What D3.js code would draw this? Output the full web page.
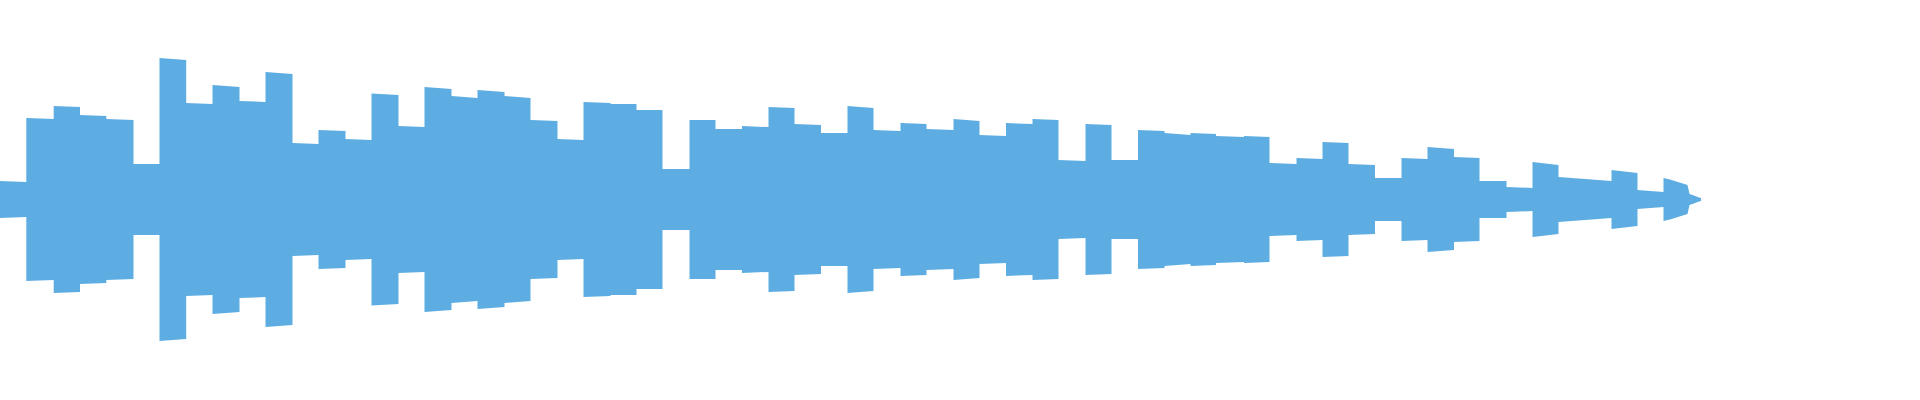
<!DOCTYPE html>
<html>
<head>
<meta charset="utf-8">
<script src="https://cdn.jsdelivr.net/npm/d3@7"></script>
<style>
  html, body { margin: 0; padding: 0; background: #fff; }
  svg { display: block; }
</style>
</head>
<body>
<svg id="chart"></svg>
<script>
// note onsets (seconds) - last one is the fading tail
const noteStart = [0, 0.263, 0.537, 0.80, 1.063, 1.335, 1.595, 1.862, 2.125, 2.395,
  2.655, 2.925, 3.185, 3.455, 3.715, 3.985, 4.245, 4.515, 4.775, 5.045,
  5.305, 5.575, 5.835, 6.105, 6.365, 6.625, 6.895, 7.155, 7.42, 7.685,
  7.945, 8.21, 8.475, 8.735, 9.005, 9.265, 9.535, 9.795, 10.06, 10.325,
  10.585, 10.855, 11.115, 11.38, 11.645, 11.905, 12.16, 12.44, 12.695, 12.965,
  13.225, 13.485, 13.75, 14.015, 14.275, 14.54, 14.795, 15.065, 15.325, 15.585,
  16.115, 16.375, 16.635]

// peak amplitude (% of full scale) at start / end of each note
const startAmp = [9.3, 40.9, 46.9, 42.4, 40.4, 17.8, 70.9, 48.4, 57.4, 49.4,
  63.9, 28.3, 34.8, 30.3, 53.1, 36.8, 56.4, 51.9, 54.9, 51.9,
  39.9, 30.3, 48.9, 47.9, 44.9, 15.3, 39.9, 35.3, 36.8, 46.4,
  37.8, 33.3, 46.9, 34.8, 38.3, 35.3, 40.4, 32.3, 38.3, 40.4,
  19.8, 37.8, 19.8, 34.8, 33.3, 33.3, 31.8, 31.8, 18.3, 20.8,
  28.8, 17.8, 10.8, 20.8, 26.3, 21.3, 9.3, 6.3, 18.8, 11.3,
  14.8, 4.8]
const endAmp = [8.8, 40.4, 46.4, 41.9, 39.9, 17.8, 69.9, 47.9, 56.4, 48.9,
  62.9, 27.8, 34.3, 29.8, 52.4, 36.3, 55.4, 50.9, 53.9, 50.9,
  39.4, 29.8, 48.4, 47.9, 44.9, 15.3, 39.9, 35.3, 36.3, 45.9,
  37.3, 33.3, 45.9, 34.3, 37.8, 34.8, 39.4, 31.8, 37.8, 39.9,
  19.3, 37.3, 19.8, 34.3, 32.3, 32.8, 31.3, 31.3, 17.8, 20.3,
  28.3, 17.3, 10.8, 20.3, 25.3, 20.8, 9.3, 5.8, 17.3, 9.3,
  13.3, 3.8]

// last note fade out
const tailTime = [16.635, 16.70, 16.875, 16.895, 16.925, 16.99, 17.01]
const tailAmp = [10.8, 10.0, 7.3, 2.8, 2.3, 1.0, 0.8]

const width = 1920
const height = 400

const svg = d3.select('#chart')
    .attr('width', width)
    .attr('height', height)

const x = d3.scaleLinear()
    .domain([0, 19.2])
    .range([0, width])

const y = d3.scaleLinear()
    .domain([-100, 100])
    .range([399, 0])

const points = []
for (let i = 0; i < startAmp.length; i++) {
    points.push({ t: noteStart[i], a: startAmp[i] })
    points.push({ t: noteStart[i + 1], a: endAmp[i] })
}
tailTime.forEach((t, i) => points.push({ t: t, a: tailAmp[i] }))

const area = d3.area()
    .x(d => x(d.t))
    .y0(d => y(-d.a))
    .y1(d => y(d.a))

svg.append('path')
    .datum(points)
    .attr('class', 'wave')
    .attr('d', area)
    .attr('fill', '#5DADE2')
</script>
</body>
</html>
